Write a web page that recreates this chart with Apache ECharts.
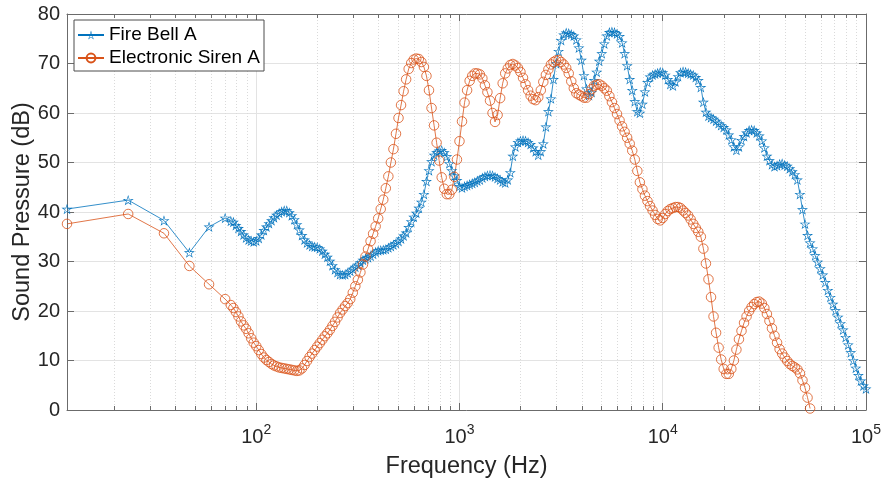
<!DOCTYPE html>
<html><head><meta charset="utf-8">
<script src="https://cdn.jsdelivr.net/npm/echarts@6/dist/echarts.min.js"></script>
<style>html,body{margin:0;padding:0;background:#fff}#c{width:884px;height:484px}</style>
</head><body><div id="c"></div>
<script>
// Frequency (Hz) of each sample
const freq = [11.72, 23.44, 35.16, 46.88, 58.59, 70.31,
74.99, 77.18, 79.43, 81.75, 84.14, 86.60, 89.13, 91.73, 94.41, 97.16,
100, 102.9, 105.9, 109.0, 112.2, 115.5, 118.9, 122.3, 125.9, 129.6, 133.4, 137.3, 141.3, 145.4, 149.6, 154.0, 158.5, 163.1, 167.9, 172.8, 177.8, 183.0, 188.4, 193.9, 199.5, 205.4, 211.4, 217.5, 223.9, 230.4, 237.1, 244.1, 251.2, 258.5, 266.1, 273.8, 281.8, 290.1, 298.5, 307.3, 316.2, 325.5, 335.0, 344.8, 354.8, 365.2, 375.8, 386.8, 398.1, 409.7, 421.7, 434.0, 446.7, 459.7, 473.2, 487.0, 501.2, 515.8, 530.9, 546.4, 562.3, 578.8, 595.7, 613.1, 631.0, 649.4, 668.3, 687.9, 707.9, 728.6, 749.9, 771.8, 794.3, 817.5, 841.4, 866.0, 891.3, 917.3, 944.1, 971.6,
1000, 1029, 1059, 1090, 1122, 1155, 1189, 1223, 1259, 1296, 1334, 1372, 1413, 1454, 1496, 1540, 1585, 1631, 1679, 1728, 1778, 1830, 1884, 1939, 1995, 2054, 2113, 2175, 2239, 2304, 2371, 2441, 2512, 2585, 2661, 2738, 2818, 2901, 2985, 3073, 3162, 3255, 3350, 3447, 3548, 3652, 3758, 3868, 3981, 4097, 4217, 4340, 4467, 4597, 4732, 4870, 5012, 5158, 5309, 5464, 5623, 5788, 5957, 6131, 6310, 6494, 6683, 6879, 7079, 7286, 7499, 7718, 7943, 8175, 8414, 8660, 8913, 9173, 9441, 9716,
10000, 10290, 10590, 10900, 11220, 11550, 11890, 12230, 12590, 12960, 13340, 13720, 14130, 14540, 14960, 15400, 15850, 16310, 16790, 17280, 17780, 18300, 18840, 19390, 19950, 20540, 21130, 21750, 22390, 23040, 23710, 24410, 25120, 25850, 26610, 27380, 28180, 29010, 29850, 30730, 31620, 32550, 33500, 34470, 35480, 36520, 37580, 38680, 39810, 40970, 42170, 43400, 44670, 45970, 47320, 48700, 50120, 51580, 53090, 54640, 56230, 57880, 59570, 61310, 63100, 64940, 66830, 68790, 70790, 72860, 74990, 77180, 79430, 81750, 84140, 86600, 89130, 91730, 94410, 97160,
100000];

// Sound pressure (dB) - Fire Bell A (one value per freq entry)
const fireBell = [40.6, 42.4, 38.3, 31.8, 37.0, 38.8,
38.2, 38.0, 37.3, 36.7, 36.1, 35.4, 34.8, 34.4, 34.2, 34.0,
34.2, 34.7, 35.4, 36.3, 37.0, 37.7, 38.3, 38.9, 39.4, 39.8,
40.1, 40.3, 40.3, 39.9, 39.3, 38.5, 37.5, 36.4, 35.3, 34.4,
33.8, 33.4, 33.1, 33.0, 32.9, 32.6, 32.1, 31.5, 30.9, 30.1,
29.2, 28.4, 27.8, 27.4, 27.3, 27.4, 27.7, 28.1, 28.5, 28.9,
29.3, 29.8, 30.3, 30.6, 30.8, 31.1, 31.5, 31.9, 32.2, 32.3,
32.4, 32.5, 32.8, 33.1, 33.4, 33.7, 34.1, 34.6, 35.2, 35.8,
36.9, 38.1, 39.0, 39.8, 40.8, 42.0, 43.6, 46.2, 48.4, 50.2,
51.5, 52.0, 52.4, 52.5, 52.0, 51.2, 49.8, 48.4, 47.3, 46.4,
45.2, 44.9, 45.2, 45.4, 45.6, 45.8, 46.0, 46.3, 46.5, 46.9,
47.2, 47.4, 47.5, 47.4, 47.1, 46.8, 46.5, 46.1, 45.9, 46.5,
48.0, 51.3, 53.2, 54.1, 54.4, 54.5, 54.4, 54.1, 53.7, 53.0,
52.2, 51.5, 52.2, 53.8, 57.2, 60.3, 62.9, 66.8, 70.0, 72.5,
74.7, 75.8, 76.2, 76.1, 75.9, 75.6, 74.8, 73.2, 70.7, 67.6,
64.9, 63.6, 64.2, 66.6, 68.3, 70.5, 72.0, 74.0, 75.6, 76.3,
76.4, 76.3, 76.0, 75.5, 74.2, 72.0, 69.6, 66.8, 64.6, 62.3,
60.3, 60.0, 61.8, 64.3, 66.2, 67.3, 67.7, 67.9, 68.1, 68.3,
68.2, 67.7, 66.8, 65.8, 65.5, 66.3, 67.4, 68.2, 68.4, 68.3,
68.1, 67.9, 67.7, 67.2, 66.6, 65.2, 62.2, 60.2, 59.4, 59.1,
58.8, 58.4, 57.9, 57.5, 57.1, 56.6, 55.6, 54.6, 53.2, 52.5,
53.2, 54.5, 55.3, 56.0, 56.5, 56.6, 56.5, 56.0, 55.4, 54.4,
53.0, 51.3, 50.4, 49.6, 49.2, 49.4, 49.7, 49.8, 49.5, 49.3,
48.8, 48.2, 47.6, 46.5, 43.6, 40.5, 37.6, 35.3, 33.8, 32.6,
31.2, 29.9, 28.6, 27.3, 25.8, 24.2, 22.8, 21.4, 20.1, 18.8,
17.5, 16.2, 14.7, 13.2, 11.6, 10.0, 8.5, 7.0, 5.9, 4.9,
4.3];

// Sound pressure (dB) - Electronic Siren A (first entries of freq)
const siren = [37.6, 39.6, 35.7, 29.1, 25.4, 22.4,
21.2, 20.6, 19.8, 18.9, 17.9, 17.1, 16.4, 15.5, 14.5, 13.6,
12.9, 12.1, 11.3, 10.6, 10.1, 9.7, 9.3, 9.0, 8.8, 8.6,
8.5, 8.4, 8.3, 8.2, 8.1, 8.0, 7.9, 8.0, 8.4, 9.1,
9.9, 10.7, 11.4, 12.1, 12.8, 13.5, 14.2, 14.9, 15.5, 16.2,
17.0, 17.8, 18.7, 19.6, 20.3, 21.0, 21.6, 22.4, 23.7, 25.0,
26.3, 27.8, 29.4, 31.0, 32.5, 34.1, 35.6, 37.1, 38.7, 40.6,
42.5, 44.8, 47.2, 50.0, 52.7, 55.8, 59.0, 61.6, 64.4, 66.8,
68.9, 70.1, 70.8, 71.0, 70.9, 70.3, 69.3, 67.5, 64.6, 61.0,
57.5, 54.0, 50.4, 47.0, 44.7, 43.6, 43.6, 44.5, 47.1, 50.6,
54.3, 58.3, 62.1, 64.6, 66.5, 67.5, 68.0, 68.0, 67.8, 67.0,
65.6, 64.2, 62.5, 60.0, 58.2, 59.6, 63.0, 66.0, 68.0, 69.0,
69.7, 69.9, 69.6, 69.1, 68.3, 67.1, 65.8, 64.6, 63.5, 62.8,
62.6, 63.2, 64.6, 66.3, 67.7, 68.8, 69.8, 70.3, 70.6, 70.7,
70.3, 69.8, 69.1, 68.0, 66.4, 65.0, 64.0, 63.7, 63.4, 63.1,
63.1, 63.8, 64.8, 65.5, 65.7, 65.8, 65.5, 65.0, 64.5, 63.4,
62.2, 61.0, 59.8, 58.5, 57.3, 56.2, 55.0, 53.8, 52.4, 50.6,
48.3, 46.0, 44.6, 43.3, 42.2, 41.2, 40.3, 39.4, 38.6, 38.3,
38.8, 39.6, 40.2, 40.6, 40.8, 41.0, 41.0, 40.8, 40.3, 39.8,
39.3, 38.5, 37.6, 36.8, 36.0, 35.0, 32.6, 29.6, 26.4, 22.8,
18.9, 15.6, 12.6, 10.2, 8.3, 7.3, 7.3, 8.3, 10.0, 12.2,
14.3, 16.0, 17.6, 18.9, 20.0, 20.8, 21.4, 21.8, 21.9, 21.5,
20.6, 19.4, 18.0, 16.5, 15.0, 13.6, 12.3, 11.4, 10.6, 9.9,
9.3, 8.9, 8.6, 8.2, 7.4, 6.0, 4.5, 2.5, 0.3];

const seriesNames = ['Fire Bell A', 'Electronic Siren A'];
const decadeTicks = [100, 1000, 10000, 100000];
const decadeExps = ['2', '3', '4', '5'];
const minorTicks = [20,30,40,50,60,70,80,90,200,300,400,500,600,700,800,900,2000,3000,4000,5000,6000,7000,8000,9000,20000,30000,40000,50000,60000,70000,80000,90000];
const xRange = [11.72, 100000];
const yRange = [0, 80];
const yStep = 10;

const FONT = '"Liberation Sans", Arial, Helvetica, sans-serif';
const TXT = '#262626';
const AX = '#6b6b6b';
const GRID = '#e3e3e3';
const BLUE = '#0072BD';
const ORANGE = '#D95319';
// hollow pentagram: outer star plus reversed inner star (hole)
const STAR = 'path://M50,0L61.2,34.5L97.6,34.5L68.2,55.9L79.4,90.5L50,69.1L20.6,90.5L31.8,55.9L2.4,34.5L38.8,34.5Z' +
  'M50,17L42.6,39.8L18.6,39.8L38,53.9L30.6,76.7L50,62.6L69.4,76.7L62,53.9L81.4,39.8L57.4,39.8Z';

const bellData = fireBell.map((v, i) => [freq[i], v]);
const sirenData = siren.map((v, i) => [freq[i], v]);

function decadeLabel(v) {
  for (let i = 0; i < decadeTicks.length; i++) {
    if (Math.abs(v / decadeTicks[i] - 1) < 1e-6) return '{a|10}{b|' + decadeExps[i] + '}';
  }
  return '';
}

const baseX = {type: 'log', logBase: 10, min: xRange[0], max: xRange[1], gridIndex: 0};
const chart = echarts.init(document.getElementById('c'), null, {renderer: 'canvas'});
chart.setOption({
  animation: false,
  backgroundColor: '#ffffff',
  textStyle: {fontFamily: FONT},
  grid: {left: 67, right: 18, top: 14, bottom: 74, containLabel: false},
  legend: {
    data: seriesNames, orient: 'vertical', left: 74, top: 20,
    padding: [5, 4, 3, 3], itemWidth: 26, itemHeight: 11, itemGap: 3,
    backgroundColor: '#ffffff', borderColor: '#4d4d4d', borderWidth: 1,
    textStyle: {fontSize: 19, color: '#000', fontFamily: FONT, lineHeight: 20}
  },
  xAxis: [
    Object.assign({}, baseX, {
      position: 'bottom',
      axisLine: {show: true, lineStyle: {color: AX, width: 1}},
      axisTick: {show: true, inside: true, length: 7, lineStyle: {color: AX}},
      axisLabel: {formatter: decadeLabel, margin: 13, color: TXT, fontFamily: FONT,
        rich: {a: {fontSize: 20, color: TXT, fontFamily: FONT, lineHeight: 28},
               b: {fontSize: 14, color: TXT, fontFamily: FONT, lineHeight: 10, verticalAlign: 'top'}}},
      splitLine: {show: true, lineStyle: {color: GRID, width: 1}},
      name: 'Frequency (Hz)', nameLocation: 'middle', nameGap: 45,
      nameTextStyle: {fontSize: 23.5, color: TXT, fontFamily: FONT}
    }),
    Object.assign({}, baseX, {
      position: 'bottom',
      axisLine: {show: false}, axisLabel: {show: false},
      axisTick: {show: true, inside: true, length: 4, customValues: minorTicks, lineStyle: {color: AX}},
      splitLine: {show: true, lineStyle: {color: '#dadada', width: 1, type: [1, 2]}}
    }),
    Object.assign({}, baseX, {
      position: 'top',
      axisLine: {show: true, lineStyle: {color: AX, width: 1}},
      axisTick: {show: true, inside: true, length: 7, lineStyle: {color: AX}},
      axisLabel: {show: false}, splitLine: {show: false}
    }),
    Object.assign({}, baseX, {
      position: 'top',
      axisLine: {show: false}, axisLabel: {show: false},
      axisTick: {show: true, inside: true, length: 4, customValues: minorTicks, lineStyle: {color: AX}},
      splitLine: {show: false}
    })
  ],
  yAxis: [
    {type: 'value', min: yRange[0], max: yRange[1], interval: yStep, position: 'left',
      axisLine: {show: true, lineStyle: {color: AX, width: 1}},
      axisTick: {show: true, inside: true, length: 7, lineStyle: {color: AX}},
      axisLabel: {fontSize: 20, color: TXT, fontFamily: FONT, margin: 7},
      splitLine: {show: true, lineStyle: {color: GRID, width: 1}},
      name: 'Sound Pressure (dB)', nameLocation: 'middle', nameGap: 32, nameRotate: 90,
      nameMoveOverlap: false,
      nameTextStyle: {fontSize: 23.5, color: TXT, fontFamily: FONT}},
    {type: 'value', min: yRange[0], max: yRange[1], interval: yStep, position: 'right',
      axisLine: {show: true, lineStyle: {color: AX, width: 1}},
      axisTick: {show: true, inside: true, length: 7, lineStyle: {color: AX}},
      axisLabel: {show: false}, splitLine: {show: false}}
  ],
  series: [
    {type: 'line', name: seriesNames[0], data: bellData, xAxisIndex: 0, yAxisIndex: 0,
      symbol: STAR, symbolSize: 11, symbolKeepAspect: true, showSymbol: true, clip: true,
      lineStyle: {color: BLUE, width: 0.8},
      itemStyle: {color: BLUE, borderWidth: 0},
      emphasis: {disabled: true}, silent: true},
    {type: 'line', name: seriesNames[1], data: sirenData, xAxisIndex: 0, yAxisIndex: 0,
      symbol: 'circle', symbolSize: 9.5, showSymbol: true, clip: true,
      lineStyle: {color: ORANGE, width: 0.8},
      itemStyle: {color: 'rgba(255,255,255,0)', borderColor: ORANGE, borderWidth: 0.8},
      emphasis: {disabled: true}, silent: true}
  ]
});
</script></body></html>
